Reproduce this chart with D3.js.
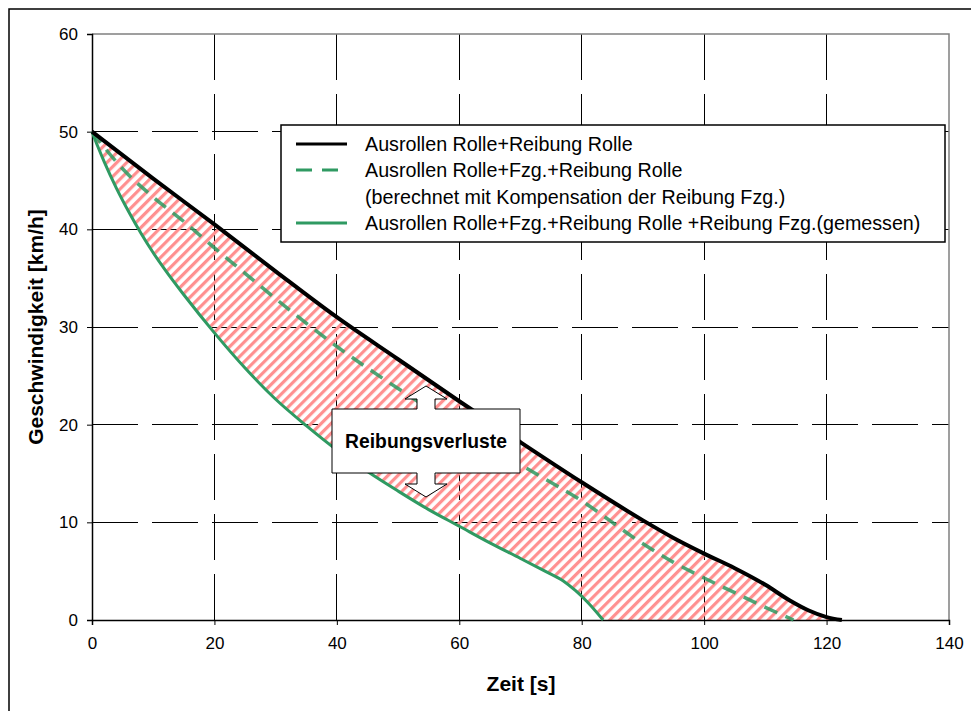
<!DOCTYPE html>
<html>
<head>
<meta charset="utf-8">
<script src="https://cdn.jsdelivr.net/npm/d3@7"></script>
<style>
  html, body { margin: 0; padding: 0; background: #fff; }
  svg { display: block; font-family: Arial, "Liberation Sans", sans-serif; }
</style>
</head>
<body>
<svg id="chart" width="971" height="711"></svg>
<script>
// ---- data ----
const xTicks = [0, 20, 40, 60, 80, 100, 120, 140];
const yTicks = [0, 10, 20, 30, 40, 50, 60];

// Ausrollen Rolle+Reibung Rolle (black)
const tRolle = [0, 10, 20, 30, 40, 50, 60, 70, 80, 90, 95, 100, 105, 110, 114, 117, 120, 122.5];
const vRolle = [50, 45.2, 40.5, 35.7, 31, 26.7, 22.4, 18.2, 14.1, 10.2, 8.4, 6.8, 5.3, 3.6, 2.0, 1.0, 0.3, 0];

// Ausrollen Rolle+Fzg.+Reibung Rolle (berechnet) (green dashed)
const tBerechnet = [0, 5, 10, 15, 20, 25, 30, 40, 50, 60, 70, 80, 90, 95, 100, 105, 110, 114.6];
const vBerechnet = [50, 46.2, 43.3, 40.8, 38.1, 35.5, 32.9, 28.0, 23.7, 19.7, 15.9, 12.2, 7.8, 5.9, 4.3, 2.8, 1.3, 0];

// Ausrollen Rolle+Fzg.+Reibung Rolle +Reibung Fzg. (gemessen) (green solid)
const tGemessen = [0, 1, 2, 4, 6, 8, 10, 12, 15, 20, 25, 30, 35, 40, 45, 50, 55, 60, 65, 70, 74, 77, 79, 81, 83.5];
const vGemessen = [50, 48.4, 46.9, 44.2, 41.8, 39.6, 37.6, 35.8, 33.3, 29.4, 25.8, 22.6, 19.9, 17.4, 15.2, 13.2, 11.3, 9.6, 7.9, 6.3, 5.0, 4.0, 3.0, 1.8, 0];

const legendLabels = [
  "Ausrollen Rolle+Reibung Rolle",
  "Ausrollen Rolle+Fzg.+Reibung Rolle",
  "(berechnet mit Kompensation der Reibung Fzg.)",
  "Ausrollen Rolle+Fzg.+Reibung Rolle +Reibung Fzg.(gemessen)"
];
const calloutText = "Reibungsverluste";
const xTitle = "Zeit [s]";
const yTitle = "Geschwindigkeit [km/h]";

// ---- layout ----
const svg = d3.select("#chart");
const L = 92, R = 949, T = 34, B = 620;
const x = d3.scaleLinear().domain([0, 140]).range([L, R]);
const y = d3.scaleLinear().domain([0, 60]).range([B, T]);

const green = "#2f9a62";

// outer frame
svg.append("rect").attr("x", 9).attr("y", 9).attr("width", 1000).attr("height", 1000)
  .attr("fill", "#fff").attr("stroke", "#000").attr("stroke-width", 1.5);

// hatch pattern
const defs = svg.append("defs");
const pat = defs.append("pattern").attr("id", "hatch")
  .attr("patternUnits", "userSpaceOnUse").attr("width", 7).attr("height", 10)
  .attr("patternTransform", "rotate(45)");
pat.append("rect").attr("x", 0).attr("y", 0).attr("width", 3.2).attr("height", 10)
  .attr("fill", "#ff9090");

// grid lines
const grid = svg.append("g");
grid.selectAll(".vg").data(xTicks.filter(d => d > 0 && d < 140)).join("line")
  .attr("x1", d => x(d)).attr("x2", d => x(d)).attr("y1", T).attr("y2", B)
  .attr("stroke", "#000").attr("stroke-width", 1).attr("stroke-dasharray", "46,14")
  .attr("shape-rendering", "crispEdges");
grid.selectAll(".hg").data(yTicks.filter(d => d > 0 && d < 60)).join("line")
  .attr("x1", L).attr("x2", R).attr("y1", d => y(d)).attr("y2", d => y(d))
  .attr("stroke", "#000").attr("stroke-width", 1).attr("stroke-dasharray", "46,14")
  .attr("shape-rendering", "crispEdges");

// plot border top/right (gray)
svg.append("path").attr("d", `M${L},${T}H${R}V${B}`).attr("fill", "none")
  .attr("stroke", "#808080").attr("stroke-width", 1.5);

// hatched area between black (upper) and gemessen (lower)
const upper = tRolle.map((t, i) => [x(t), y(vRolle[i])]);
const lower = tGemessen.map((t, i) => [x(t), y(vGemessen[i])]);
const lineGen = d3.line().curve(d3.curveMonotoneX);
const areaPath = lineGen(upper) + "L" + lineGen(lower.slice().reverse()).slice(1) + "Z";
svg.append("path").attr("d", areaPath).attr("fill", "url(#hatch)").attr("stroke", "none");

// axes
const xAxis = d3.axisBottom(x).tickValues(xTicks).tickSize(5).tickPadding(12);
const yAxis = d3.axisLeft(y).tickValues(yTicks).tickSize(5).tickPadding(9);
const gx = svg.append("g").attr("transform", `translate(0,${B})`).call(xAxis);
const gy = svg.append("g").attr("transform", `translate(${L},0)`).call(yAxis);
[gx, gy].forEach(g => {
  g.select(".domain").attr("stroke", "#000").attr("stroke-width", 1.5);
  g.selectAll(".tick line").attr("stroke", "#000").attr("stroke-width", 1);
  g.selectAll(".tick text").attr("font-size", 17).attr("fill", "#000")
    .attr("font-family", "Arial, 'Liberation Sans', sans-serif");
});

// curves
svg.append("path").attr("d", lineGen(tBerechnet.map((t, i) => [x(t), y(vBerechnet[i])])))
  .attr("fill", "none").attr("stroke", green).attr("stroke-width", 3.5)
  .attr("stroke-opacity", 0.85).attr("stroke-dasharray", "14,9");
svg.append("path").attr("d", lineGen(lower))
  .attr("fill", "none").attr("stroke", green).attr("stroke-width", 3);
svg.append("path").attr("d", lineGen(upper))
  .attr("fill", "none").attr("stroke", "#000").attr("stroke-width", 4);

// legend
const lg = svg.append("g");
lg.append("rect").attr("x", 281).attr("y", 125).attr("width", 664).attr("height", 117)
  .attr("fill", "#fff").attr("stroke", "#000").attr("stroke-width", 1.5);
const rowY = [144, 170, 197, 223];
lg.selectAll("text").data(legendLabels).join("text")
  .attr("x", 365).attr("y", (d, i) => rowY[i]).attr("dy", "0.35em")
  .attr("font-size", 19.7).text(d => d);
lg.append("line").attr("x1", 296).attr("x2", 347).attr("y1", rowY[0]).attr("y2", rowY[0])
  .attr("stroke", "#000").attr("stroke-width", 3);
lg.append("line").attr("x1", 296).attr("x2", 347).attr("y1", rowY[1]).attr("y2", rowY[1])
  .attr("stroke", green).attr("stroke-width", 3).attr("stroke-dasharray", "16,10");
lg.append("line").attr("x1", 296).attr("x2", 347).attr("y1", rowY[3]).attr("y2", rowY[3])
  .attr("stroke", green).attr("stroke-width", 3);

// callout (up-down arrow callout)
const bx0 = 332, bx1 = 520, by0 = 409, by1 = 473, cx = 426;
const sw = 9, aw = 21;
const callout = [
  [bx0, by0], [cx - sw, by0], [cx - sw, by0 - 10], [cx - aw, by0 - 10], [cx, by0 - 23],
  [cx + aw, by0 - 10], [cx + sw, by0 - 10], [cx + sw, by0], [bx1, by0], [bx1, by1],
  [cx + sw, by1], [cx + sw, by1 + 11], [cx + aw, by1 + 11], [cx, by1 + 24], [cx - aw, by1 + 11],
  [cx - sw, by1 + 11], [cx - sw, by1], [bx0, by1]
];
svg.append("path").attr("d", d3.line()(callout) + "Z")
  .attr("fill", "#fff").attr("stroke", "#000").attr("stroke-width", 1);
svg.append("text").attr("x", cx).attr("y", (by0 + by1) / 2).attr("dy", "0.35em")
  .attr("text-anchor", "middle").attr("font-weight", "bold").attr("font-size", 19.3)
  .text(calloutText);

// axis titles
svg.append("text").attr("x", 521).attr("y", 684).attr("dy", "0.35em").attr("text-anchor", "middle")
  .attr("font-weight", "bold").attr("font-size", 21).text(xTitle);
svg.append("text").attr("transform", `translate(36,${(T + B) / 2}) rotate(-90)`)
  .attr("text-anchor", "middle").attr("dy", "0.35em")
  .attr("font-weight", "bold").attr("font-size", 21).text(yTitle);
</script>
</body>
</html>
